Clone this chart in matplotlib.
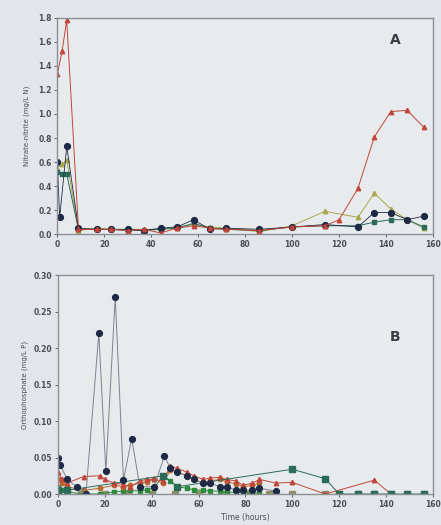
import matplotlib
matplotlib.use("Agg")
import matplotlib.pyplot as plt

# ---- panel A: nitrate-nitrite ----
a_red_t = [0, 2, 4, 9, 17, 23, 30, 37, 44, 51, 58, 65, 72, 86, 100, 114, 120, 128, 135, 142, 149, 156]
a_red_v = [1.33, 1.52, 1.78, 0.04, 0.04, 0.04, 0.03, 0.04, 0.01, 0.05, 0.07, 0.05, 0.04, 0.03, 0.06, 0.07, 0.12, 0.38, 0.81, 1.02, 1.03, 0.89]

a_olive_t = [0, 2, 4, 9, 17, 23, 30, 37, 44, 51, 58, 65, 72, 86, 100, 114, 128, 135, 142, 149, 156]
a_olive_v = [0.55, 0.58, 0.62, 0.03, 0.05, 0.04, 0.04, 0.04, 0.04, 0.06, 0.08, 0.06, 0.05, 0.02, 0.07, 0.19, 0.14, 0.34, 0.21, 0.12, 0.05]

a_navy_t = [0, 1, 4, 9, 17, 23, 30, 37, 44, 51, 58, 65, 72, 86, 100, 114, 128, 135, 142, 149, 156]
a_navy_v = [0.60, 0.14, 0.73, 0.05, 0.04, 0.04, 0.04, 0.03, 0.05, 0.06, 0.12, 0.04, 0.05, 0.04, 0.06, 0.08, 0.06, 0.18, 0.18, 0.12, 0.15]

a_teal_t = [0, 2, 4, 9, 17, 23, 30, 37, 44, 51, 58, 65, 72, 86, 100, 114, 128, 135, 142, 149, 156]
a_teal_v = [0.52, 0.50, 0.50, 0.04, 0.04, 0.04, 0.03, 0.03, 0.04, 0.05, 0.09, 0.05, 0.04, 0.03, 0.06, 0.07, 0.07, 0.10, 0.12, 0.12, 0.06]

# ---- panel B: orthophosphate ----
b_navy_t = [0, 1, 4, 8, 12, 17.5, 20.5, 24.5, 28, 31.5, 35, 41, 45.5, 48, 51, 55, 58, 62, 65, 69, 72, 76, 79, 83, 86, 93]
b_navy_v = [0.05, 0.04, 0.02, 0.01, 0.0, 0.22, 0.031, 0.27, 0.019, 0.076, 0.01, 0.01, 0.052, 0.035, 0.03, 0.025, 0.02, 0.015, 0.015, 0.01, 0.01, 0.005, 0.005, 0.005, 0.008, 0.004]

b_red_t = [0, 2, 4, 11, 18, 20, 24, 28, 31, 35, 38, 41, 45, 48, 51, 55, 58, 62, 65, 69, 72, 76, 79, 83, 86, 93, 100, 114, 135, 142]
b_red_v = [0.03, 0.02, 0.015, 0.024, 0.025, 0.02, 0.015, 0.013, 0.01, 0.018, 0.02, 0.02, 0.018, 0.038, 0.035, 0.03, 0.025, 0.02, 0.022, 0.023, 0.02, 0.018, 0.012, 0.015, 0.02, 0.015, 0.016, 0.0, 0.019, 0.0]

b_orange_t = [0, 2, 4, 11, 18, 24, 28, 31, 35, 38, 41, 45, 48, 51, 55, 58, 62, 65, 69, 72, 76, 79, 83, 86]
b_orange_v = [0.02, 0.015, 0.01, 0.005, 0.008, 0.012, 0.01, 0.012, 0.015, 0.017, 0.02, 0.015, 0.033, 0.03, 0.025, 0.02, 0.015, 0.018, 0.02, 0.017, 0.014, 0.01, 0.012, 0.015]

b_green_t = [0, 2, 4, 11, 18, 24, 28, 31, 35, 38, 41, 45, 48, 51, 55, 58, 62, 65, 69, 72, 76, 79, 83, 86]
b_green_v = [0.01, 0.005, 0.003, 0.0, 0.0, 0.003, 0.004, 0.005, 0.004, 0.006, 0.008, 0.025, 0.018, 0.01, 0.008, 0.006, 0.005, 0.004, 0.004, 0.003, 0.002, 0.002, 0.001, 0.002]

b_teal_t = [0, 4, 45, 51, 100, 114, 120, 128, 135, 142, 149, 156]
b_teal_v = [0.005, 0.005, 0.025, 0.01, 0.034, 0.021, 0.0, 0.0, 0.0, 0.0, 0.0, 0.0]

b_olive_t = [0, 10, 20, 30, 40, 50, 60, 70, 80, 90, 100, 114, 120, 128, 135, 142, 149, 156]
b_olive_v = [0.0] * 18

RED = "#c2453a"
OLIVE = "#a8a84a"
NAVY = "#1e2a45"
TEAL = "#2a6b58"
ORANGE = "#b66a30"
GREEN = "#2e8a3c"
BG = "#e2e5e9"
TXT = "#4a4e56"

fig = plt.figure(figsize=(4.41, 5.25), dpi=100, facecolor=BG)
ax_a = fig.add_axes([0.130, 0.554, 0.852, 0.412])
ax_b = fig.add_axes([0.131, 0.059, 0.851, 0.417])

kw = dict(lw=0.7, ms=3.2)
ax_a.plot(a_olive_t, a_olive_v, "^-", color=OLIVE, **kw)
ax_a.plot(a_teal_t, a_teal_v, "s-", color=TEAL, **kw)
ax_a.plot(a_navy_t, a_navy_v, "o-", color=NAVY, lw=0.6, ms=4.2)
ax_a.plot(a_red_t, a_red_v, "^-", color=RED, **kw)

ax_b.plot(b_olive_t, b_olive_v, "s--", color="#8f8f66", lw=0.7, ms=3.8)
ax_b.plot(b_green_t, b_green_v, "s-", color=GREEN, **kw)
ax_b.plot(b_orange_t, b_orange_v, "o-", color=ORANGE, **kw)
ax_b.plot(b_red_t, b_red_v, "^-", color=RED, **kw)
ax_b.plot(b_teal_t, b_teal_v, "s-", color=TEAL, lw=0.7, ms=3.8)
ax_b.plot(b_navy_t, b_navy_v, "o-", color="#7d8290", mfc=NAVY, mec=NAVY, lw=0.7, ms=4.2)

for ax in (ax_a, ax_b):
    ax.set_facecolor("#e8ebee")
    ax.set_xlim(0, 160)
    ax.set_xticks(range(0, 161, 20))
    for s in ax.spines.values():
        s.set_color("#8c9096")
        s.set_linewidth(1.0)
    ax.tick_params(labelsize=5.5, colors=TXT, length=2, width=0.6, pad=2)
    for lab in ax.get_xticklabels() + ax.get_yticklabels():
        lab.set_fontweight("bold")

ax_a.set_ylim(0, 1.8)
ax_a.set_yticks([0.0, 0.2, 0.4, 0.6, 0.8, 1.0, 1.2, 1.4, 1.6, 1.8])
ax_a.set_yticklabels(["0.0", "0.2", "0.4", "0.6", "0.8", "1.0", "1.2", "1.4", "1.6", "1.8"], fontweight="bold")
ax_a.set_ylabel("Nitrate-nitrite (mg/L N)", fontsize=5, color=TXT, labelpad=6)
ax_a.text(0.885, 0.88, "A", transform=ax_a.transAxes, fontsize=10, fontweight="bold", color="#3a3d44")

ax_b.set_ylim(0, 0.30)
ax_b.set_yticks([0.0, 0.05, 0.10, 0.15, 0.20, 0.25, 0.30])
ax_b.set_yticklabels(["0.00", "0.05", "0.10", "0.15", "0.20", "0.25", "0.30"], fontweight="bold")
ax_b.set_ylabel("Orthophosphate (mg/L P)", fontsize=5, color=TXT, labelpad=4)
ax_b.set_xlabel("Time (hours)", fontsize=5.5, color=TXT, labelpad=3)
ax_b.text(0.885, 0.70, "B", transform=ax_b.transAxes, fontsize=10, fontweight="bold", color="#3a3d44")

fig.savefig("out.png", dpi=100, facecolor=BG)
